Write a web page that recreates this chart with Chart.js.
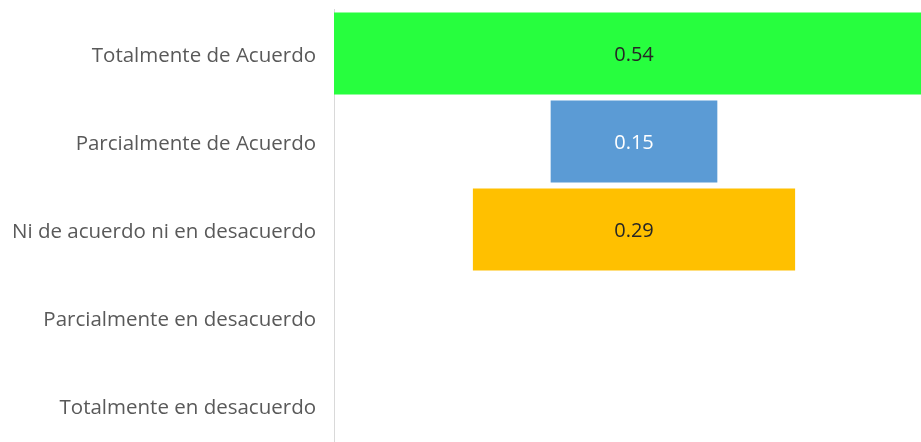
<!DOCTYPE html>
<html>
<head>
<meta charset="utf-8">
<script src="https://cdn.jsdelivr.net/npm/chart.js@4/dist/chart.umd.min.js"></script>
<style>
    html, body { margin: 0; padding: 0; overflow: hidden; background: #ffffff; }
    #wrap { position: relative; width: 940px; height: 460px; }
</style>
</head>
<body>
<div id="wrap"><canvas id="chart"></canvas></div>
<script>
const categories = [
    "Totalmente de Acuerdo",
    "Parcialmente de Acuerdo",
    "Ni de acuerdo ni en desacuerdo",
    "Parcialmente en desacuerdo",
    "Totalmente en desacuerdo",
];
const values = [0.54, 0.15, 0.29, 0, 0];
const barColors = ["#27FE3E", "#5B9BD5", "#FFC000", "#A5A5A5", "#ED7D31"];
const labelColors = ["#262626", "#ffffff", "#262626", "#262626", "#262626"];

// funnel: each bar is centred on half of the largest value
const center = Math.max(...values) / 2;
const floating = values.map((v) => [center - v / 2, center + v / 2]);

const barLabels = {
    id: "barLabels",
    afterDatasetsDraw(chart) {
        const ctx = chart.ctx;
        const meta = chart.getDatasetMeta(0);
        ctx.save();
        ctx.font = "20px 'Open Sans'";
        ctx.textAlign = "center";
        ctx.textBaseline = "middle";
        meta.data.forEach((bar, i) => {
            if (!values[i]) return;
            const x = (bar.x + bar.base) / 2;
            ctx.fillStyle = labelColors[i];
            ctx.fillText(values[i].toFixed(2), x, bar.y + 2);
        });
        ctx.restore();
    },
};

new Chart(document.getElementById("chart"), {
    type: "bar",
    data: {
        labels: categories,
        datasets: [
            {
                data: floating,
                backgroundColor: barColors,
                borderWidth: 0,
                borderSkipped: false,
                barPercentage: 0.93,
                categoryPercentage: 1,
            },
        ],
    },
    options: {
        indexAxis: "y",
        responsive: true,
        maintainAspectRatio: false,
        animation: false,
        layout: { padding: { top: 9.5, bottom: 10.5, left: 0, right: 6 } },
        plugins: {
            legend: { display: false },
            tooltip: { enabled: false },
        },
        scales: {
            x: {
                display: false,
                min: 0,
                max: 0.54,
            },
            y: {
                afterFit(scale) {
                    scale.width = 334;
                    scale.paddingTop = 0;
                    scale.paddingBottom = 0;
                },
                grid: { display: false, drawTicks: false },
                border: { display: true, color: "#d9d9d9", width: 1 },
                ticks: {
                    padding: 18,
                    labelOffset: 3,
                    color: "#595959",
                    font: { family: "'Open Sans'", size: 20.5 },
                },
            },
        },
    },
    plugins: [barLabels],
});
</script>
</body>
</html>
